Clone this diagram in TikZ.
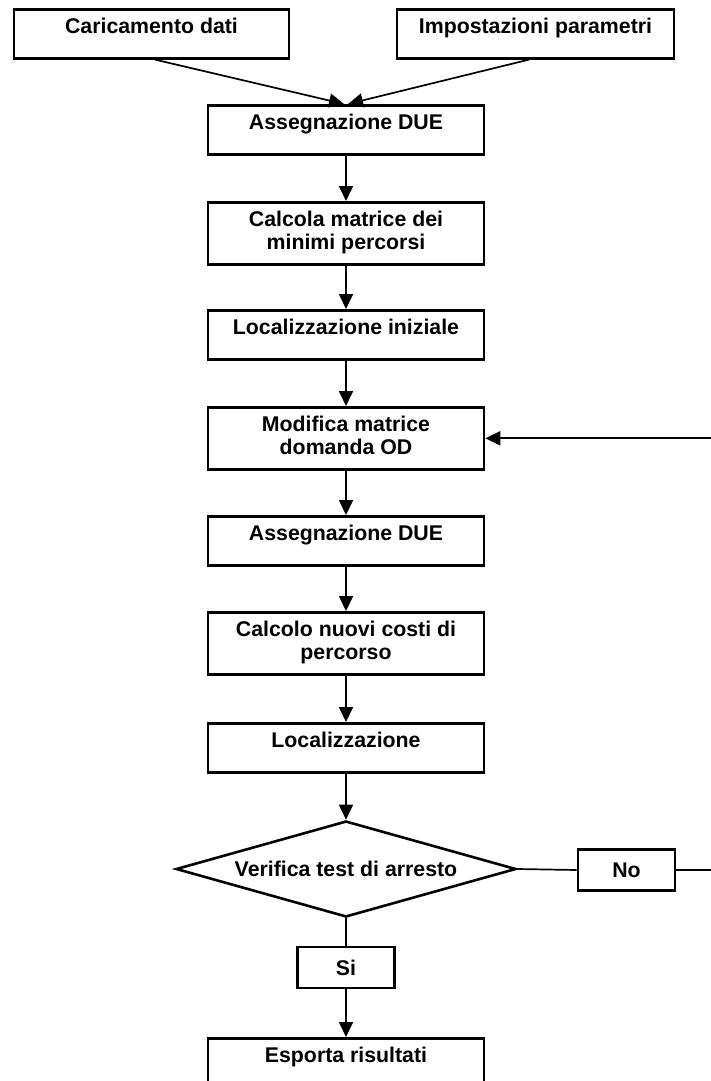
\documentclass[tikz,border=0pt]{standalone}
\usepackage{fontspec}
\setmainfont{Liberation Sans}
\usetikzlibrary{arrows.meta,shapes.geometric,calc}
\begin{document}
\begin{tikzpicture}[x=1pt,y=-1pt,
  every node/.style={font=\fontsize{21.3}{23}\selectfont\bfseries},
  stepbox/.style={draw,line width=2.6pt,rectangle,inner xsep=0pt,inner ysep=0pt,
    minimum width=276pt,text height=24pt,text depth=25pt,align=center,anchor=north},
  twoline/.style={text height=47pt,text depth=15pt},
  decision/.style={draw,line width=2.6pt,diamond,aspect=3.54,inner sep=0pt,
    minimum width=340pt,minimum height=96pt},
  tag/.style={draw,line width=2.6pt,rectangle,inner sep=0pt,
    minimum width=97pt,minimum height=41pt},
  line/.style={line width=1.7pt},
  link/.style={line width=1.7pt,-{Triangle[length=15pt,width=14pt]}}
]
\useasboundingbox (0,0) rectangle (711,1081);
\clip (0,0) rectangle (711,1081);

% input boxes
\node[stepbox,minimum width=275pt] (load) at (151.5,8) {Caricamento dati};
\node[stepbox,minimum width=277pt] (params) at (535.5,8) {Impostazioni parametri};

% main sequence
\node[stepbox] (due1) at (346,104) {Assegnazione DUE};
\node[stepbox,twoline] (spm) at (346,201) {Calcola matrice dei\\minimi percorsi};
\node[stepbox] (loc0) at (346,309) {Localizzazione iniziale};
\node[stepbox,twoline] (odmod) at (346,406) {Modifica matrice\\domanda OD};
\node[stepbox] (due2) at (346,515) {Assegnazione DUE};
\node[stepbox,twoline] (cost) at (346,611) {Calcolo nuovi costi di\\percorso};
\node[stepbox] (loc) at (346,722) {Localizzazione};
\node[decision] (stop) at (346,869) {Verifica test di arresto};
\node[tag] (no) at (626.5,870) {No};
\node[tag] (si) at (346,967.5) {Si};
\node[stepbox] (export) at (346,1037) {Esporta risultati};

% loop-back turning point, right of the visible area
\coordinate (loopturn) at (722,0);

% connectors
\draw[link] ($(load.south)+(3.5,0)$) -- ($(due1.north)+(-2,0)$);
\draw[link] ($(params.south)+(-6.5,0)$) -- ($(due1.north)+(2,0)$);
\draw[link] (due1.south) -- (spm.north);
\draw[link] (spm.south) -- (loc0.north);
\draw[link] (loc0.south) -- (odmod.north);
\draw[link] (odmod.south) -- (due2.north);
\draw[link] (due2.south) -- (cost.north);
\draw[link] (cost.south) -- (loc.north);
\draw[link] (loc.south) -- (stop.north);
\draw[line] (stop.east) -- (no.west);
\draw[link] (no.east) -- (no.east -| loopturn) -- (loopturn |- odmod.east) -- (odmod.east);
\draw[line] (stop.south) -- (si.north);
\draw[link] (si.south) -- (export.north);
\end{tikzpicture}
\end{document}
